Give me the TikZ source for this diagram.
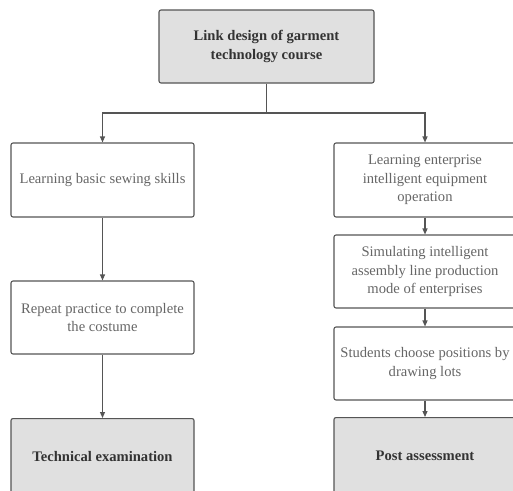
\documentclass[tikz,border=0pt]{standalone}
\usepackage{fontspec}
\setmainfont{Liberation Serif}
\usetikzlibrary{arrows.meta}
\definecolor{boxline}{HTML}{555555}
\definecolor{txt}{HTML}{666666}
\definecolor{boldtxt}{HTML}{333333}
\definecolor{grayfill}{HTML}{E0E0E0}
\tikzset{
  plainbox/.style={draw=boxline, line width=1.1pt, rounded corners=2pt, fill=white,
    align=center, text=txt, inner sep=2pt, font=\fontsize{14.6}{18.5}\selectfont},
  keybox/.style={plainbox, fill=grayfill, text=boldtxt, font=\fontsize{14.6}{18.5}\selectfont\bfseries},
  conn/.style={draw=boxline, line width=1.1pt},
  arr/.style={conn, -{Triangle[width=5pt,length=6pt]}}
}
\begin{document}
\begin{tikzpicture}[x=1pt,y=-1pt]
\useasboundingbox (0,0) rectangle (513,490);
\clip (0,0) rectangle (513,490);
\fill[white] (0,0) rectangle (513,490);
% nodes
\node[keybox, minimum width=215pt, minimum height=73pt] (top) at (266.5,46.5) {Link design of garment\\technology course};
\node[plainbox, minimum width=183pt, minimum height=74pt] (l1) at (102.5,180) {Learning basic sewing skills};
\node[plainbox, minimum width=183pt, minimum height=73pt] (l2) at (102.5,317.5) {Repeat practice to complete\\the costume};
\node[keybox, minimum width=183pt, minimum height=76pt, anchor=north] (l3) at (102.5,418) {Technical examination};
\node[plainbox, minimum width=182pt, minimum height=74pt] (r1) at (425,180) {Learning enterprise\\intelligent equipment\\operation};
\node[plainbox, minimum width=182pt, minimum height=73pt] (r2) at (425,271.5) {Simulating intelligent\\assembly line production\\mode of enterprises};
\node[plainbox, minimum width=182pt, minimum height=73pt] (r3) at (425,363.5) {Students choose positions by\\drawing lots};
\node[keybox, minimum width=182pt, minimum height=77pt, anchor=north] (r4) at (425,417) {Post assessment};
% connectors
\coordinate (split) at (266.5,113);
\draw[conn, line width=1.8pt] (top.south) -- (split);
\draw[arr] (split) -| (l1.north);
\draw[arr] (split) -| (r1.north);
\draw[arr] (l1) -- (l2);
\draw[arr] (l2) -- (l3);
\draw[arr] (r1) -- (r2);
\draw[arr] (r2) -- (r3);
\draw[arr] (r3) -- (r4);
\end{tikzpicture}
\end{document}
